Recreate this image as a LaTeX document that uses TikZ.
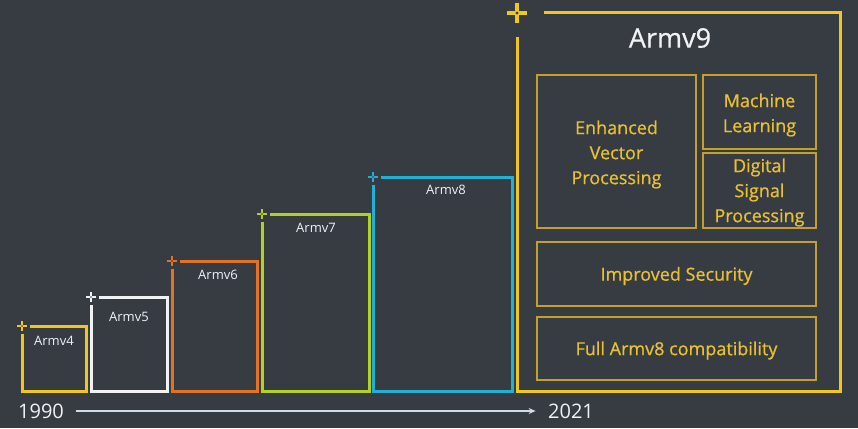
\documentclass[tikz,border=0pt]{standalone}
\usepackage{fontspec}
\setmainfont{Open Sans}
\newfontfamily\featurefont[FakeBold = 0.7]{Open Sans}
\usetikzlibrary{arrows.meta, calc}

\definecolor{bg}{RGB}{55,60,67}
\definecolor{armyellow}{RGB}{240,198,32}
\definecolor{armwhite}{RGB}{240,242,244}
\definecolor{armorange}{RGB}{226,114,36}
\definecolor{armlime}{RGB}{180,208,34}
\definecolor{armcyan}{RGB}{32,178,212}
\definecolor{gold}{RGB}{196,160,42}
\definecolor{goldtext}{RGB}{232,192,52}
\definecolor{axis}{RGB}{208,220,230}

\begin{document}
\begin{tikzpicture}[x = 1pt, y = -1pt, % pixel grid, y runs down
        > = {Stealth[length = 7pt, width = 6pt]}, % arrow head style
        line join = miter % sharp box corners
    ]

    \tikzstyle{era} = [line width = 3pt]
    \tikzstyle{eralabel} = [text = armwhite, inner sep = 0pt,
    font = \fontsize{13}{15}\selectfont]
    \tikzstyle{feature} = [draw = gold, line width = 1.6pt, inner sep = 0pt]
    \tikzstyle{featuretext} = [text = goldtext, align = center, inner sep = 0pt,
    font = \featurefont\fontsize{18}{25}\selectfont]
    \tikzstyle{year} = [text = armwhite, font = \fontsize{20}{24}\selectfont]
    \tikzset{spark/.pic = {\draw (-5,0) -- (5,0) (0,-5) -- (0,5);
        \fill[bg] (0,0) circle (0.8);}}

    \fill[bg] (0,0) rectangle (858,428);

    % one box per generation, open at its top left corner
    \foreach \n/\col/\xa/\ya/\xb/\lx/\ly in {4/armyellow/22/326/86/54/341,
        5/armwhite/91/297/167/129/317, 6/armorange/172/261/257/218/275,
        7/armlime/262/214/369/316/228, 8/armcyan/373/177/512/446/190}{
        \coordinate (nw\n) at (\xa,\ya); \coordinate (se\n) at (\xb,391);
        \draw[era, \col] ($(nw\n)+(8,0)$) -| (se\n) -| ($(nw\n)+(0,8)$);
        \pic[\col, line width = 2.2pt] at (nw\n) {spark};
        \node[eralabel] (l\n) at (\lx,\ly) {Armv\n};
    }

    \coordinate (nw9) at (517,13); \coordinate (se9) at (840,391);
    \draw[era, armyellow] ($(nw9)+(27,0)$) -| (se9) -| ($(nw9)+(0,24)$);
    \pic[armyellow, line width = 4pt, scale = 2] at (nw9) {spark};
    \node[text = armwhite, font = \featurefont\fontsize{27}{30}\selectfont]
    (l9) at (670,38) {Armv9};

    % feature boxes, text set a little low as on the slide
    \node[feature, minimum width = 159pt, minimum height = 153pt] (evp) at
    (616.5,151.5) {};
    \node[feature, minimum width = 113pt, minimum height = 74pt] (ml) at
    (759.5,112) {};
    \node[feature, minimum width = 113pt, minimum height = 75pt] (dsp) at
    (759.5,190.5) {};
    \node[feature, minimum width = 279pt, minimum height = 64pt] (sec) at
    (676.5,274) {};
    \node[feature, minimum width = 279pt, minimum height = 63pt] (compat) at
    (676.5,348.5) {};
    \node[featuretext] at ($(evp)+(0,3)$) {Enhanced\\Vector\\Processing};
    \node[featuretext] at ($(ml)+(0,3)$) {Machine\\Learning};
    \node[featuretext] at ($(dsp)+(0,2)$) {Digital\\Signal\\Processing};
    \node[featuretext] at ($(sec)+(0,2)$) {Improved Security};
    \node[featuretext] at ($(compat)+(0,2)$) {Full Armv8 compatibility};

    \node[year] (start) at (41,411) {1990};
    \node[year] (end) at (571,411) {2021};
    \draw[->, axis, line width = 2pt, shorten <= 9pt, shorten >= 9pt]
    (start) -- (end);
\end{tikzpicture}
\end{document}
